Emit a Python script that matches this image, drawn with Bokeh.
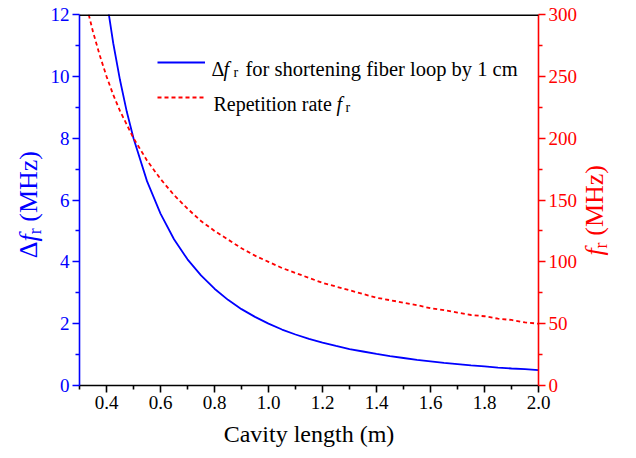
from bokeh.plotting import figure
from bokeh.layouts import row
from bokeh.models import (Range1d, LinearAxis, Label, Legend, LegendItem, Span,
                          FixedTicker, PrintfTickFormatter, Div)
from bokeh.embed import file_html
from bokeh.resources import INLINE

# ---- data ----
cavity_length_m = [0.30, 0.325, 0.35, 0.375, 0.40, 0.425, 0.45, 0.475, 0.50,
                   0.55, 0.60, 0.65, 0.70, 0.75, 0.80, 0.85, 0.90, 0.95, 1.00,
                   1.05, 1.10, 1.15, 1.20, 1.25, 1.30, 1.35, 1.40, 1.45, 1.50,
                   1.55, 1.60, 1.65, 1.70, 1.75, 1.80, 1.85, 1.90, 1.95, 2.00]
delta_fr_mhz = [22.2, 18.9, 16.3, 14.2, 12.5, 11.07, 9.88, 8.86, 8.00,
                6.61, 5.56, 4.73, 4.08, 3.56, 3.13, 2.77, 2.47, 2.22, 2.00,
                1.81, 1.65, 1.51, 1.39, 1.28, 1.18, 1.10, 1.02, 0.95, 0.89,
                0.83, 0.78, 0.73, 0.69, 0.65, 0.62, 0.58, 0.55, 0.53, 0.50]
rep_rate_mhz = [333, 308, 286, 267, 250, 235, 222, 211, 200,
                182, 167, 154, 143, 133, 125, 118, 111, 105, 100,
                95, 91, 87, 83, 80, 77, 74, 71, 69, 67,
                65, 62.5, 61, 59, 57, 56, 54, 53, 51, 50]

x_ticks = [0.4, 0.6, 0.8, 1.0, 1.2, 1.4, 1.6, 1.8, 2.0]
left_ticks = [0, 2, 4, 6, 8, 10, 12]
right_ticks = [0, 50, 100, 150, 200, 250, 300]

FONT = "Liberation Serif"
BLUE = "#0000FF"
RED = "#FF0000"

LEFT_W = 44
RIGHT_W = 56

p = figure(width=636 - LEFT_W - RIGHT_W, height=458, output_backend="svg",
           toolbar_location=None,
           x_range=Range1d(0.3, 2.0), y_range=Range1d(0, 12),
           min_border_left=79 - LEFT_W, min_border_right=40, min_border_top=14,
           min_border_bottom=73, margin=0)
p.extra_y_ranges = {"rep": Range1d(0, 300)}
p.grid.visible = False
p.outline_line_color = None
p.background_fill_color = "white"
p.border_fill_color = "white"


def style_axis(ax, color, size="19px"):
    ax.axis_line_color = color
    ax.axis_line_width = 1.6
    ax.major_tick_line_color = color
    ax.minor_tick_line_color = color
    ax.major_tick_line_width = 1.6
    ax.minor_tick_line_width = 1.6
    ax.major_tick_in = 0
    ax.major_tick_out = 7
    ax.minor_tick_in = 0
    ax.minor_tick_out = 4
    ax.major_label_text_color = color
    ax.major_label_text_font = FONT
    ax.major_label_text_font_size = size
    ax.major_label_standoff = 3


xax = p.xaxis[0]
style_axis(xax, "black")
xax.ticker = FixedTicker(ticks=x_ticks, minor_ticks=[t - 0.1 for t in x_ticks])
xax.formatter = PrintfTickFormatter(format="%.1f")
xax.axis_label = "Cavity length (m)"
xax.axis_label_text_font = FONT
xax.axis_label_text_font_size = "24px"
xax.axis_label_text_font_style = "normal"
xax.axis_label_text_color = "black"
xax.axis_label_standoff = 9

yax = p.yaxis[0]
style_axis(yax, BLUE)
yax.ticker = FixedTicker(ticks=left_ticks, minor_ticks=[t + 1 for t in left_ticks[:-1]])

rax = LinearAxis(y_range_name="rep")
style_axis(rax, RED)
rax.ticker = FixedTicker(ticks=right_ticks, minor_ticks=[t + 25 for t in right_ticks[:-1]])
p.add_layout(rax, "right")

p.add_layout(Span(location=12, dimension="width", line_color="black", line_width=3.2))

blue = p.line(cavity_length_m, delta_fr_mhz, line_color=BLUE, line_width=1.8)
red = p.line(cavity_length_m, rep_rate_mhz, y_range_name="rep", line_color=RED,
             line_width=1.8, line_dash="4 3")

legend = Legend(items=[LegendItem(label=" ", renderers=[blue]),
                       LegendItem(label=" ", renderers=[red])],
                location=(78, 278), glyph_width=48, glyph_height=20,
                label_height=20, label_width=1, label_standoff=0, spacing=15,
                padding=0, margin=0, border_line_color=None,
                background_fill_alpha=0, label_text_font_size="20px")
p.add_layout(legend)


def lab(x, y, text, size, color="black", italic=False):
    p.add_layout(Label(x=x, y=y, x_units="screen", y_units="screen", text=text,
                       text_font=FONT, text_font_size=size, text_color=color,
                       text_font_style="italic" if italic else "normal",
                       text_baseline="alphabetic", text_align="left"))


lab(132, 317, "\u0394", "20px")
lab(144, 317, "f", "20px", italic=True)
lab(154, 313, "r", "14px")
lab(166, 317, "for shortening fiber loop by 1 cm", "20.5px")
lab(134, 282, "Repetition rate", "20px")
lab(257, 282, "f", "20px", italic=True)
lab(266, 278, "r", "14px")

SPAN = ("position:absolute;writing-mode:vertical-rl;transform:rotate(180deg);"
        "font-family:'Liberation Serif';font-size:26px;white-space:nowrap;"
        "line-height:normal;")
SUB = '<sub style="font-size:18px;margin-left:1px;margin-right:2px;">r</sub>'
left_title = Div(
    width=LEFT_W, height=458, margin=0,
    text=('<div style="position:relative;width:%dpx;height:458px;">'
          '<span style="%sleft:14px;bottom:200px;color:%s;">'
          '\u0394<i>f</i>%s (MHz)</span></div>'
          % (LEFT_W, SPAN, BLUE, SUB)))
right_title = Div(
    width=RIGHT_W, height=458, margin=0,
    text=('<div style="position:relative;width:%dpx;height:458px;">'
          '<span style="%sleft:0px;bottom:203px;color:%s;">'
          '<i>f</i>%s (MHz)</span></div>'
          % (RIGHT_W, SPAN, RED, SUB)))

layout = row(left_title, p, right_title, spacing=0)
open("out.html", "w").write(file_html(layout, INLINE))
